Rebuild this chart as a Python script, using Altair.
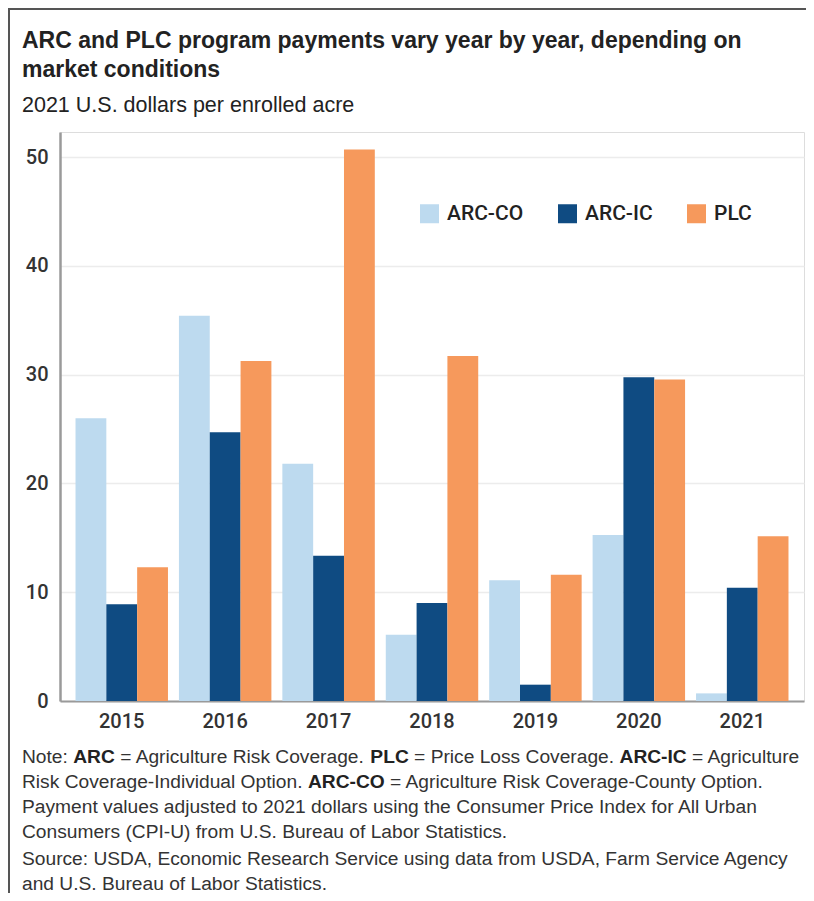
import altair as alt
import pandas as pd

# ---- data ----
years = ["2015", "2016", "2017", "2018", "2019", "2020", "2021"]
programs = ["ARC-CO", "ARC-IC", "PLC"]
arc_co = [26.0, 35.4, 21.8, 6.1, 11.1, 15.25, 0.7]
arc_ic = [8.9, 24.7, 13.35, 9.0, 1.5, 29.75, 10.4]
plc = [12.3, 31.25, 50.7, 31.7, 11.6, 29.55, 15.15]
colors = ["#BDDAEF", "#0F4B82", "#F6995C"]
y_ticks = [0, 10, 20, 30, 40, 50]

title_lines = ["ARC and PLC program payments vary year by year, depending on", "market conditions"]
subtitle = "2021 U.S. dollars per enrolled acre"

note_line1 = [("Note: ", False), ("ARC", True), (" = Agriculture Risk Coverage. ", False), ("PLC", True),
              (" = Price Loss Coverage. ", False), ("ARC-IC", True), (" = Agriculture", False)]
note_line2 = [("Risk Coverage-Individual Option. ", False), ("ARC-CO", True),
              (" = Agriculture Risk Coverage-County Option.", False)]
note_plain = ["Payment values adjusted to 2021 dollars using the Consumer Price Index for All Urban",
              "Consumers (CPI-U) from U.S. Bureau of Labor Statistics."]
source_lines = ["Source: USDA, Economic Research Service using data from USDA, Farm Service Agency",
                "and U.S. Bureau of Labor Statistics."]

FONT = "Liberation Sans"
LABEL_FONT = "Roboto"
NOTE_SIZE = 19.2

rows = []
for i, yr in enumerate(years):
    for p, vals in zip(programs, [arc_co, arc_ic, plc]):
        rows.append({"year": yr, "program": p, "value": vals[i]})
df = pd.DataFrame(rows)

# Arial / Liberation Sans advance widths (per 1000 em) for laying out mixed-weight note lines
REG = dict(zip("abcdefghijklmnopqrstuvwxyz",
               [556, 556, 500, 556, 556, 278, 556, 556, 222, 222, 500, 222, 833, 556, 556, 556, 556, 333, 500, 278,
                556, 500, 722, 500, 500, 500]))
REG.update(dict(zip("ABCDEFGHIJKLMNOPQRSTUVWXYZ",
                    [667, 667, 722, 722, 667, 611, 778, 722, 278, 500, 667, 556, 833, 722, 778, 667, 778, 722, 667,
                     611, 722, 667, 944, 667, 667, 611])))
REG.update({" ": 278, ".": 278, ":": 278, "=": 584, "-": 333, ",": 278})
BOLD = {"A": 722, "R": 722, "C": 722, "P": 667, "L": 611, "I": 278, "O": 778, "-": 333, " ": 278}


def seg_width(s, bold):
    t = BOLD if bold else REG
    return sum(t[c] for c in s) * NOTE_SIZE / 1000.0


LEFT = -38  # text left edge relative to plot origin
note_y = [625, 650, 675, 700, 727, 752]

seg_rows = []
for line, ypos in [(note_line1, note_y[0]), (note_line2, note_y[1])]:
    x = LEFT
    for s, b in line:
        lead = len(s) - len(s.lstrip(" "))
        seg_rows.append({"t": s.strip(), "x": x + seg_width(" " * lead, False), "y": ypos, "b": b})
        x += seg_width(s, b)
for s, ypos in zip(note_plain + source_lines, note_y[2:]):
    seg_rows.append({"t": s, "x": LEFT, "y": ypos, "b": False})
seg_df = pd.DataFrame(seg_rows)

head_df = pd.DataFrame({
    "t": title_lines + [subtitle],
    "x": [LEFT, LEFT, LEFT],
    "y": [-91, -62, -26],
    "kind": ["title", "title", "sub"],
})

bars = alt.Chart(df).mark_bar().encode(
    x=alt.X("year:N", sort=years,
            scale=alt.Scale(paddingInner=0.106, paddingOuter=0.15),
            axis=alt.Axis(title=None, labelAngle=0, labelFont=LABEL_FONT, labelFontSize=20,
                          labelFontWeight=500, labelColor="#333333", labelPadding=10,
                          domainColor="#9a9a9a", domainWidth=2, ticks=False, grid=False)),
    xOffset=alt.XOffset("program:N", sort=programs,
                        scale=alt.Scale(paddingInner=0, paddingOuter=0)),
    y=alt.Y("value:Q", scale=alt.Scale(domain=[0, 52.3], nice=False),
            axis=alt.Axis(title=None, values=y_ticks, labelFont=LABEL_FONT, labelFontSize=20,
                          labelFontWeight=500, labelColor="#333333", labelPadding=12,
                          grid=True, gridColor="#ececec", gridWidth=1.5,
                          domainColor="#9a9a9a", domainWidth=2.5, ticks=False)),
    color=alt.Color("program:N", sort=programs,
                    scale=alt.Scale(domain=programs, range=colors),
                    legend=alt.Legend(title=None, orient="none", legendX=359, legendY=71,
                                      direction="horizontal", symbolType="square", symbolSize=361,
                                      symbolStrokeWidth=0, labelFont=LABEL_FONT, labelFontSize=21,
                                      labelFontWeight=500, labelColor="#222222", labelOffset=7,
                                      columnPadding=33, padding=0)),
)

title_text = alt.Chart(head_df[head_df["kind"] == "title"]).mark_text(
    align="left", baseline="middle", font=FONT, fontSize=23, fontWeight="bold", color="#222222"
).encode(x=alt.X("x:Q", scale=None), y=alt.Y("y:Q", scale=None), text="t:N")

subtitle_text = alt.Chart(head_df[head_df["kind"] == "sub"]).mark_text(
    align="left", baseline="middle", font=FONT, fontSize=21.5, color="#222222"
).encode(x=alt.X("x:Q", scale=None), y=alt.Y("y:Q", scale=None), text="t:N")

notes_reg = alt.Chart(seg_df[~seg_df["b"]]).mark_text(
    align="left", baseline="middle", font=FONT, fontSize=NOTE_SIZE, color="#333333"
).encode(x=alt.X("x:Q", scale=None), y=alt.Y("y:Q", scale=None), text="t:N")

notes_bold = alt.Chart(seg_df[seg_df["b"]]).mark_text(
    align="left", baseline="middle", font=FONT, fontSize=NOTE_SIZE, fontWeight="bold", color="#222222"
).encode(x=alt.X("x:Q", scale=None), y=alt.Y("y:Q", scale=None), text="t:N")

frame_df = pd.DataFrame({"k": [0]})
frame_left = alt.Chart(frame_df).mark_rule(color="#555555", strokeWidth=2).encode(
    x=alt.value(-51), y=alt.value(-124), y2=alt.value(765))
frame_top = alt.Chart(frame_df).mark_rule(color="#555555", strokeWidth=2).encode(
    x=alt.value(-52), x2=alt.value(746), y=alt.value(-123))

chart = alt.layer(bars, title_text, subtitle_text, notes_reg, notes_bold, frame_left, frame_top).properties(
    width=744,
    height=569,
    padding={"left": 52, "top": 124, "right": 2, "bottom": 192},
    autosize=alt.AutoSizeParams(type="none"),
).configure_view(stroke=None).configure(background="white")

chart.save("out.html", embed_options={"renderer": "svg", "actions": False})
